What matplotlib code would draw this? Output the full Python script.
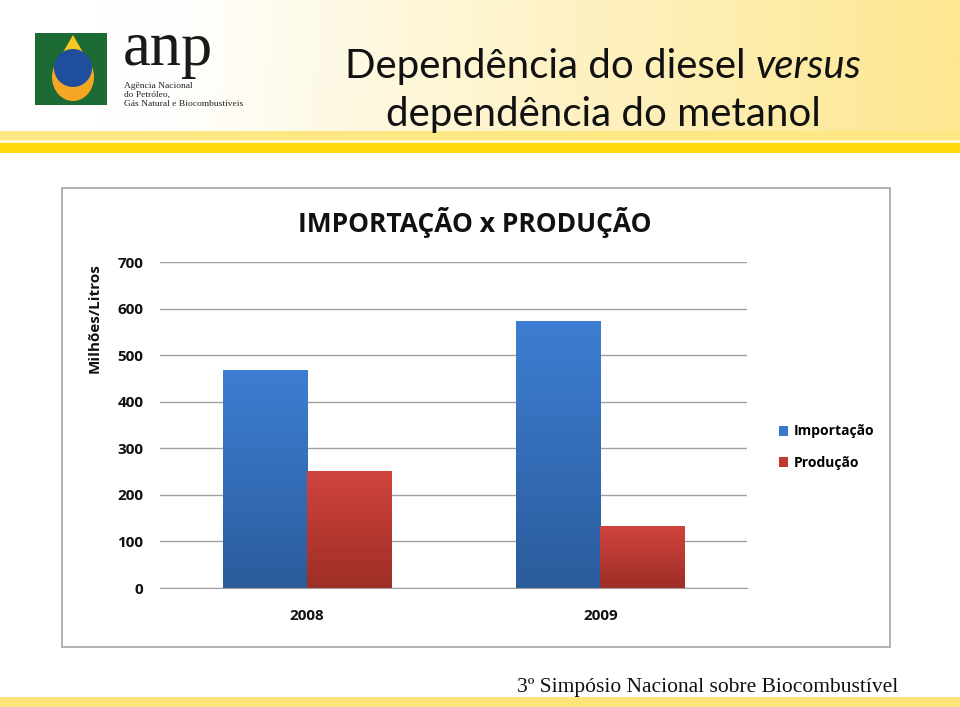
import numpy as np
import matplotlib
matplotlib.use("Agg")
import matplotlib.pyplot as plt
from matplotlib.patches import Rectangle, Polygon, Circle, Ellipse, Patch
from matplotlib.colors import LinearSegmentedColormap

# ---------------- data ----------------
categories = ["2008", "2009"]
importacao = [468, 573]
producao = [251, 133]
series_names = ["Importação", "Produção"]
y_ticks = [0, 100, 200, 300, 400, 500, 600, 700]
chart_title = "IMPORTAÇÃO x PRODUÇÃO"
y_label = "Milhões/Litros"
slide_title_1 = "Dependência do diesel "
slide_title_1_it = "versus"
slide_title_2 = "dependência do metanol"
footer = "3º Simpósio Nacional sobre Biocombustível"

W, H = 960, 707
fig = plt.figure(figsize=(W / 100, H / 100), dpi=100)
fig.patch.set_facecolor("white")

# ---------------- decoration layer (pixel coords) ----------------
bg = fig.add_axes([0, 0, 1, 1])
bg.set_xlim(0, W)
bg.set_ylim(H, 0)
bg.axis("off")

# header gradient
xs = np.linspace(0, 1, 400)
ys = np.linspace(0, 1, 60)
X, Y = np.meshgrid(xs, ys)
t = np.clip((X * W - 180) / 780, 0, 1) ** 0.9
t = np.clip(t * (0.75 + 0.25 * (1 - Y)) + 0.25 * Y * np.clip((X * W - 100) / 860, 0, 1), 0, 1)
white = np.array([1, 1, 1])
yel = np.array([253, 231, 145]) / 255
img = white[None, None, :] * (1 - t[..., None]) + yel[None, None, :] * t[..., None]
bg.imshow(img, extent=[0, W, 131, 0], aspect="auto", zorder=0, interpolation="bilinear")

# stripes
bg.add_patch(Rectangle((0, 131), W, 9, color="#fde782", lw=0, zorder=1))
bg.add_patch(Rectangle((0, 140), W, 3, color="#fff8d0", lw=0, zorder=1))
bg.add_patch(Rectangle((0, 143), W, 10, color="#fcd80c", lw=0, zorder=1))
bg.add_patch(Rectangle((0, 697), W, 10, color="#fde47a", lw=0, zorder=1))

# logo
bg.add_patch(Rectangle((35, 33), 72, 72, color="#1c6b35", lw=0, zorder=2))
bg.add_patch(Ellipse((73, 77), 42, 48, color="#f5a623", lw=0, zorder=3))
bg.add_patch(Polygon([(73, 35), (54, 68), (92, 68)], closed=True, color="#f7c81e", lw=0, zorder=3))
bg.add_patch(Circle((73, 68), 19, color="#1f4f9c", lw=0, zorder=4))
bg.text(123, 65, "anp", fontsize=45, family="Liberation Serif", color="#1a1a1a",
        va="baseline", ha="left", zorder=5)
for yy, s in ((87.5, "Agência Nacional"), (97, "do Petróleo,"), (106.5, "Gás Natural e Biocombustíveis")):
    bg.text(124, yy, s, fontsize=6.8, family="Liberation Serif", color="#222", va="baseline")

# slide title
title_font = "Lato"
t1 = bg.text(0, 78, slide_title_1, fontsize=29, family=title_font, va="baseline", ha="left", color="#111")
t1i = bg.text(0, 78, slide_title_1_it, fontsize=29, family=title_font, style="italic",
              va="baseline", ha="left", color="#111")
t2 = bg.text(603, 126, slide_title_2, fontsize=29, family=title_font, va="baseline", ha="center", color="#111")
fig.canvas.draw()
r = fig.canvas.get_renderer()
w1 = t1.get_window_extent(r).width
w2 = t1i.get_window_extent(r).width
start = 603 - (w1 + w2) / 2
t1.set_x(start)
t1i.set_x(start + w1)

# chart frame
bg.add_patch(Rectangle((62, 188), 828, 459, fill=False, edgecolor="#a6a6a6", lw=1.2, zorder=2))
bg.text(475, 222, chart_title, fontsize=19, family="Open Sans", weight="bold",
        ha="center", va="center", color="#111")
bg.text(95, 318, y_label, fontsize=11, family="Open Sans", weight="bold",
        rotation=90, ha="center", va="center", color="#111")
bg.text(708, 692, footer, fontsize=15.5, family="Liberation Serif", ha="center", va="baseline", color="#111")

# ---------------- chart axes ----------------
left, right, top, bottom = 160, 747, 262, 588
ax = fig.add_axes([left / W, 1 - bottom / H, (right - left) / W, (bottom - top) / H])
ax.set_facecolor("none")
x = np.arange(len(categories))
bw = 0.287
b1 = ax.bar(x - bw / 2, importacao, bw, color="#3a78c8", zorder=3)
b2 = ax.bar(x + bw / 2, producao, bw, color="#c0392f", zorder=3)

blue_cmap = LinearSegmentedColormap.from_list("b", ["#2b5c9c", "#3d7ed2"])
red_cmap = LinearSegmentedColormap.from_list("r", ["#9e2e26", "#d0443e"])
grad = np.linspace(0, 1, 100).reshape(-1, 1)
for bars, cmap in ((b1, blue_cmap), (b2, red_cmap)):
    for p in bars:
        x0, y0, w, h = p.get_x(), p.get_y(), p.get_width(), p.get_height()
        im = ax.imshow(grad, extent=[x0, x0 + w, y0, y0 + h], origin="lower",
                       cmap=cmap, aspect="auto", zorder=4)
        im.set_clip_path(p)

ax.set_xlim(-0.5, len(categories) - 0.5)
ax.set_ylim(0, 700)
ax.set_yticks(y_ticks)
ax.set_yticklabels([str(v) for v in y_ticks], fontsize=11, family="Open Sans", weight="bold")
ax.set_xticks(x)
ax.set_xticklabels(categories, fontsize=11, family="Open Sans", weight="bold")
ax.tick_params(axis="both", length=0, pad=12, colors="#111")
ax.tick_params(axis="x", pad=15)
ax.grid(axis="y", color="#a0a0a0", lw=1.0, zorder=0)
for s in ("top", "right", "left"):
    ax.spines[s].set_visible(False)
ax.spines["bottom"].set_color("#a0a0a0")
ax.spines["bottom"].set_zorder(5)

handles = [Patch(facecolor="#3a78c8"), Patch(facecolor="#c0392f")]
leg = fig.legend(handles, series_names, loc="upper left",
                 bbox_to_anchor=(766 / W, 1 - 412 / H), frameon=False,
                 prop={"family": "Open Sans", "weight": "bold", "size": 10},
                 handlelength=0.7, handleheight=0.7, handletextpad=0.4, labelspacing=1.25)

fig.savefig("out.png", dpi=100, facecolor=fig.get_facecolor())
